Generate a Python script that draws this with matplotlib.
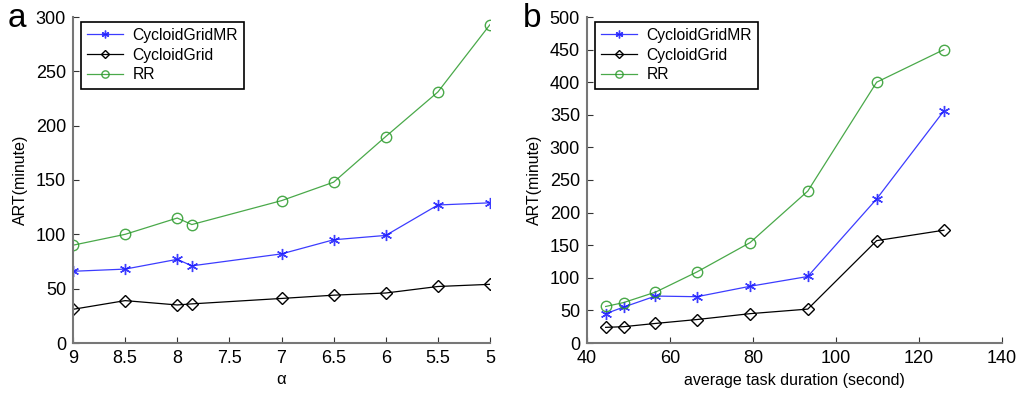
import matplotlib
matplotlib.use("Agg")
import matplotlib.pyplot as plt

plt.rcParams["font.family"] = ["Liberation Sans", "DejaVu Sans"]
plt.rcParams["font.size"] = 11

# panel a: ART vs alpha
alpha = [9, 8.5, 8, 7.86, 7, 6.5, 6, 5.5, 5]
a_mr = [66, 68, 77, 71, 82, 95, 99, 127, 129]
a_grid = [31, 39, 35, 36, 41, 44, 46, 52, 54]
a_rr = [90, 100, 115, 109, 131, 148, 190, 231, 293]

# panel b: ART vs average task duration
dur = [44.5, 48.8, 56.5, 66.5, 79.3, 93.2, 109.8, 126]
b_mr = [45, 55, 72, 71, 87, 102, 221, 356]
b_grid = [24, 25, 30, 36, 45, 52, 157, 173]
b_rr = [56, 62, 78, 109, 154, 233, 400, 450]

labels = ["CycloidGridMR", "CycloidGrid", "RR"]
colors = ["#1a1aff", "black", "#2a9a2a"]
markers = [(6, 2, 0), "D", "o"]
msizes = [8, 6, 7.5]

fig = plt.figure(figsize=(10.17, 3.95), dpi=100)
ax1 = fig.add_axes([73 / 1017, 52 / 395, 417 / 1017, 326 / 395])
ax2 = fig.add_axes([587 / 1017, 52 / 395, 415 / 1017, 326 / 395])


def draw(ax, x, series):
    for y, lab, c, m, ms in zip(series, labels, colors, markers, msizes):
        ax.plot(x, y, color=c, marker=m, markersize=ms, markerfacecolor="none",
                markeredgecolor=c, linewidth=0.9, label=lab,
                alpha=0.85 if c != "black" else 1)
    for side in ["top", "right"]:
        ax.spines[side].set_visible(False)
    for side in ["left", "bottom"]:
        ax.spines[side].set_color("#777777")
        ax.spines[side].set_linewidth(1.5)
    ax.tick_params(direction="in", length=4, color="#333333", labelsize=13, pad=5)
    ax.set_ylabel("ART(minute)", fontsize=11.5, labelpad=6)
    leg = ax.legend(loc="upper left", bbox_to_anchor=(0.0, 1.01), fancybox=False,
                    edgecolor="black", framealpha=1, markerscale=0.7,
                    handlelength=2.3, handletextpad=0.6, fontsize=11.3,
                    borderpad=0.4, labelspacing=0.3)
    leg.get_frame().set_linewidth(1.2)


draw(ax1, alpha, [a_mr, a_grid, a_rr])
ax1.set_xlim(9, 5)
ax1.set_ylim(0, 300)
ax1.set_xticks([9, 8.5, 8, 7.5, 7, 6.5, 6, 5.5, 5])
ax1.set_xticklabels(["9", "8.5", "8", "7.5", "7", "6.5", "6", "5.5", "5"])
ax1.set_xlabel("α", fontsize=12)

draw(ax2, dur, [b_mr, b_grid, b_rr])
ax2.set_xlim(40, 140)
ax2.set_ylim(0, 500)
ax2.set_xticks(range(40, 141, 20))
ax2.set_yticks(range(0, 501, 50))
ax2.set_xlabel("average task duration (second)", fontsize=11.5)

fig.text(8 / 1017, 1 - 27 / 395, "a", fontsize=24)
fig.text(523 / 1017, 1 - 27 / 395, "b", fontsize=24)

fig.savefig("out.png", dpi=100)
